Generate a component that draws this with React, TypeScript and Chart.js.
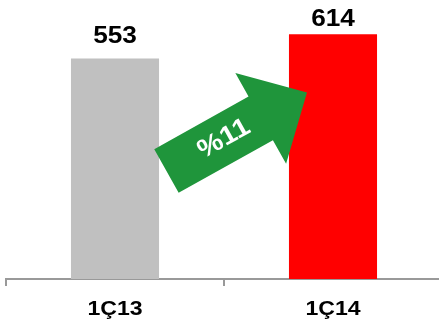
import React, { useEffect, useRef } from "react";
import { Chart, registerables } from "chart.js";

Chart.register(...registerables);

const categories = ["1Ç13", "1Ç14"];
const values = [553, 614];
const barColors = ["#C0C0C0", "#FF0000"];
const growthLabel = "%11";

const FONT = "Arial, 'Liberation Sans', sans-serif";

const overlayPlugin = {
  id: "overlay",
  afterDatasetsDraw(chart: any) {
    const ctx = chart.ctx as CanvasRenderingContext2D;
    const area = chart.chartArea;
    const meta = chart.getDatasetMeta(0);
    const xScale = chart.scales.x;

    // Arrow
    const tx = area.left + 0.368 * (area.right - area.left);
    const ty = area.top + 0.613 * (area.bottom - area.top);
    const ang = (-29.2 * Math.PI) / 180;
    const shaftLen = 108;
    const halfW = 25;
    const headLen = 53;
    const headHalf = 52;
    ctx.save();
    ctx.translate(tx, ty);
    ctx.rotate(ang);
    ctx.beginPath();
    ctx.moveTo(0, -halfW);
    ctx.lineTo(shaftLen, -halfW);
    ctx.lineTo(shaftLen, -headHalf);
    ctx.lineTo(shaftLen + headLen, 0);
    ctx.lineTo(shaftLen, headHalf);
    ctx.lineTo(shaftLen, halfW);
    ctx.lineTo(0, halfW);
    ctx.closePath();
    ctx.fillStyle = "#1F953B";
    ctx.fill();
    ctx.translate(66, 0);
    ctx.scale(1.1, 1);
    ctx.fillStyle = "#FFFFFF";
    ctx.font = `bold 26px ${FONT}`;
    ctx.textAlign = "center";
    ctx.textBaseline = "middle";
    ctx.fillText(growthLabel, 0, 0);
    ctx.restore();

    // Value labels
    const gaps = [16, 8.5];
    meta.data.forEach((bar: any, i: number) => {
      ctx.save();
      ctx.translate(bar.x, bar.y - gaps[i]);
      ctx.scale(1.14, 1);
      ctx.fillStyle = "#000000";
      ctx.font = `bold 23px ${FONT}`;
      ctx.textAlign = "center";
      ctx.textBaseline = "alphabetic";
      ctx.fillText(String(values[i]), 0, 0);
      ctx.restore();
    });

    // Category labels
    categories.forEach((c, i) => {
      const x = xScale.getPixelForTick(i);
      ctx.save();
      ctx.translate(x, 315);
      ctx.scale(1.1, 1);
      ctx.fillStyle = "#000000";
      ctx.font = `bold 21px ${FONT}`;
      ctx.textAlign = "center";
      ctx.textBaseline = "alphabetic";
      ctx.fillText(c, 0, 0);
      ctx.restore();
    });
  },
};

export default function App() {
  const ref = useRef<HTMLCanvasElement | null>(null);

  useEffect(() => {
    document.body.style.margin = "0";
    if (!ref.current) return;
    const chart = new Chart(ref.current, {
      type: "bar",
      data: {
        labels: categories,
        datasets: [
          {
            data: values,
            backgroundColor: barColors,
            borderWidth: 0,
            barPercentage: 0.404,
            categoryPercentage: 1,
          },
        ],
      },
      options: {
        animation: false,
        responsive: false,
        devicePixelRatio: 1,
        layout: { padding: { left: 6, right: 2, top: 0, bottom: 38 } },
        plugins: {
          legend: { display: false },
          tooltip: { enabled: false },
          title: { display: false },
        },
        scales: {
          x: {
            grid: {
              display: true,
              drawOnChartArea: false,
              drawTicks: true,
              tickLength: 7,
              color: "#999999",
              lineWidth: 2,
              offset: true,
            },
            border: { display: true, color: "#999999", width: 2 },
            ticks: { display: false },
          },
          y: {
            display: false,
            min: 0,
            max: 700,
          },
        },
      },
      plugins: [overlayPlugin],
    });
    return () => chart.destroy();
  }, []);

  return (
    <div style={{ width: 439, height: 324, overflow: "hidden", position: "relative" }}>
      <canvas ref={ref} width={444} height={324} style={{ display: "block", width: 444, height: 324 }} />
    </div>
  );
}
